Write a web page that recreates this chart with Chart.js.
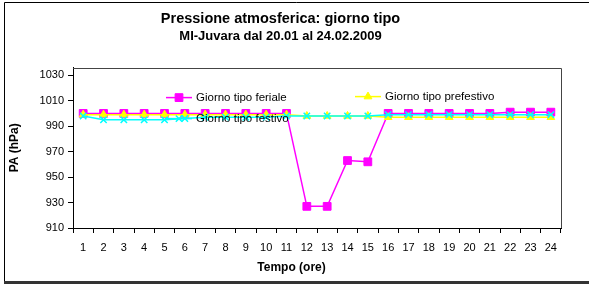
<!DOCTYPE html>
<html lang="it">
<head>
    <meta charset="UTF-8">
    <title>Pressione atmosferica: giorno tipo</title>
    <script src="https://cdn.jsdelivr.net/npm/chart.js"></script>
    <style>
        body {
            margin: 0;
            background: #fff;
        }
        .grafico-container {
            width: 589px;
            height: 284px;
        }
    </style>
</head>
<body>
    <div class="grafico-container">
        <canvas id="grafico" width="589" height="284"></canvas>
    </div>

    <script>
        // ore del giorno (asse X)
        const ore = ['1', '2', '3', '4', '5', '6', '7', '8', '9', '10', '11', '12',
                     '13', '14', '15', '16', '17', '18', '19', '20', '21', '22', '23', '24'];

        // pressione (hPa)
        const feriale    = [1000, 1000, 1000, 1000, 1000, 1000, 1000, 1000, 1000, 1000, 1000, 927,
                            927, 963, 962, 1000, 1000, 1000, 1000, 1000, 1000, 1001, 1001, 1001];
        const prefestivo = [999, 999, 999, 999, 999, 999, 999, 999, 999, 999, 999, 998,
                            998, 998, 998, 997, 997, 997, 997, 997, 997, 997, 997, 997];
        const festivo    = [998, 995, 995, 995, 995, 996, 997, 997, 997, 997, 998, 998,
                            998, 998, 998, 999, 999, 999, 999, 999, 999, 999, 999, 999];

        const tickY = [910, 930, 950, 970, 990, 1010, 1030];
        const yMin = 910;
        const yMax = 1036;

        const nero = '#000';
        const fontBase = 'Arial, "Liberation Sans", sans-serif';

        // bordo esterno + area del grafico come in Excel
        const cornice = {
            id: 'cornice',
            beforeDraw(chart) {
                const ctx = chart.ctx;
                ctx.save();
                ctx.fillStyle = '#fff';
                ctx.fillRect(0, 0, chart.width, chart.height);
                ctx.strokeStyle = '#000';
                ctx.lineWidth = 1;
                ctx.beginPath();
                ctx.moveTo(4.5, chart.height);
                ctx.lineTo(4.5, 2.5);
                ctx.lineTo(chart.width, 2.5);
                ctx.stroke();
                ctx.fillStyle = '#333';
                ctx.fillRect(4, chart.height - 3, chart.width - 4, 3);
                ctx.restore();
            },
            afterDatasetsDraw(chart) {
                const a = chart.chartArea;
                const ctx = chart.ctx;
                ctx.save();
                ctx.strokeStyle = '#444';
                ctx.lineWidth = 1;
                ctx.beginPath();
                ctx.moveTo(a.left, Math.round(a.top) + 0.5);
                ctx.lineTo(Math.round(a.right) + 0.5, Math.round(a.top) + 0.5);
                ctx.lineTo(Math.round(a.right) + 0.5, a.bottom);
                ctx.stroke();

                // titolo asse X centrato sulla figura
                ctx.fillStyle = nero;
                ctx.font = 'bold 12px ' + fontBase;
                ctx.textAlign = 'center';
                ctx.textBaseline = 'middle';
                ctx.fillText('Tempo (ore)', chart.width / 2 - 3, 268);
                ctx.restore();
            }
        };

        // legenda dentro l'area del grafico (posizioni come nel foglio Excel)
        const legendaExcel = {
            id: 'legendaExcel',
            afterDatasetsDraw(chart) {
                const a = chart.chartArea;
                const ctx = chart.ctx;
                const voci = [
                    { ds: 0, x: a.left + 93, y: a.top + 30 },
                    { ds: 1, x: a.left + 282, y: a.top + 29 },
                    { ds: 2, x: a.left + 93, y: a.top + 51 }
                ];
                ctx.save();
                voci.forEach(v => {
                    const ds = chart.data.datasets[v.ds];
                    ctx.strokeStyle = ds.borderColor;
                    ctx.lineWidth = 1.5;
                    ctx.beginPath();
                    ctx.moveTo(v.x, v.y);
                    ctx.lineTo(v.x + 26, v.y);
                    ctx.stroke();
                    ctx.fillStyle = ds.pointBackgroundColor;
                    ctx.strokeStyle = ds.pointBorderColor;
                    ctx.lineWidth = ds.pointBorderWidth;
                    Chart.helpers.drawPoint(ctx, {
                        pointStyle: ds.pointStyle,
                        rotation: 0,
                        borderWidth: ds.pointBorderWidth,
                        radius: ds.pointRadius
                    }, v.x + 13, v.y);
                    ctx.fillStyle = nero;
                    ctx.font = '11.5px ' + fontBase;
                    ctx.textAlign = 'left';
                    ctx.textBaseline = 'middle';
                    ctx.fillText(ds.label, v.x + 30, v.y);
                });
                ctx.restore();
            }
        };

        const ctx = document.getElementById('grafico').getContext('2d');

        new Chart(ctx, {
            type: 'line',
            data: {
                labels: ore,
                datasets: [
                    {
                        label: 'Giorno tipo feriale',
                        data: feriale,
                        borderColor: '#FF00FF',
                        backgroundColor: '#FF00FF',
                        pointBackgroundColor: '#FF00FF',
                        pointBorderColor: '#FF00FF',
                        pointStyle: 'rect',
                        pointRadius: 5.5,
                        pointBorderWidth: 1,
                        borderWidth: 1.5,
                        tension: 0,
                        order: 3
                    },
                    {
                        label: 'Giorno tipo prefestivo',
                        data: prefestivo,
                        borderColor: '#FFFF00',
                        backgroundColor: '#FFFF00',
                        pointBackgroundColor: '#FFFF00',
                        pointBorderColor: '#FFFF00',
                        pointStyle: 'triangle',
                        pointRadius: 4.5,
                        pointBorderWidth: 1,
                        borderWidth: 1.5,
                        tension: 0,
                        order: 2
                    },
                    {
                        label: 'Giorno tipo festivo',
                        data: festivo,
                        borderColor: '#00FFFF',
                        backgroundColor: '#00FFFF',
                        pointBackgroundColor: '#00FFFF',
                        pointBorderColor: '#00FFFF',
                        pointStyle: 'crossRot',
                        pointRadius: 4.5,
                        pointBorderWidth: 1.5,
                        borderWidth: 1.5,
                        tension: 0,
                        order: 1
                    }
                ]
            },
            options: {
                responsive: false,
                animation: false,
                devicePixelRatio: 1,
                layout: { padding: { top: 0, left: 0, right: 28, bottom: 0 } },
                plugins: {
                    legend: { display: false },
                    tooltip: { enabled: false },
                    title: {
                        display: true,
                        text: 'Pressione atmosferica: giorno tipo',
                        color: nero,
                        font: { family: fontBase, size: 14.5, weight: 'bold' },
                        padding: { top: 10, bottom: 0 }
                    },
                    subtitle: {
                        display: true,
                        text: 'MI-Juvara dal 20.01 al 24.02.2009',
                        color: nero,
                        font: { family: fontBase, size: 13, weight: 'bold' },
                        padding: { top: 1, bottom: 23.6 }
                    }
                },
                scales: {
                    x: {
                        type: 'category',
                        offset: true,
                        grid: {
                            offset: true,
                            drawOnChartArea: false,
                            drawTicks: true,
                            tickLength: 5,
                            color: nero
                        },
                        border: { color: nero, width: 1 },
                        ticks: {
                            color: nero,
                            font: { family: fontBase, size: 11 },
                            padding: 8,
                            autoSkip: false,
                            maxRotation: 0
                        },
                        afterFit(scale) { scale.height = 56; }
                    },
                    y: {
                        min: yMin,
                        max: yMax,
                        grid: {
                            drawOnChartArea: false,
                            drawTicks: true,
                            tickLength: 5,
                            color: nero
                        },
                        border: { color: nero, width: 1 },
                        ticks: {
                            color: nero,
                            font: { family: fontBase, size: 11 },
                            padding: 4,
                            callback: v => String(v)
                        },
                        afterBuildTicks(scale) {
                            scale.ticks = tickY.map(v => ({ value: v }));
                        },
                        title: {
                            display: true,
                            text: 'PA (hPa)',
                            color: nero,
                            font: { family: fontBase, size: 12, weight: 'bold' },
                            padding: { top: 7, bottom: 0 }
                        },
                        afterFit(scale) { scale.width = 73; }
                    }
                }
            },
            plugins: [cornice, legendaExcel]
        });
    </script>
</body>
</html>
